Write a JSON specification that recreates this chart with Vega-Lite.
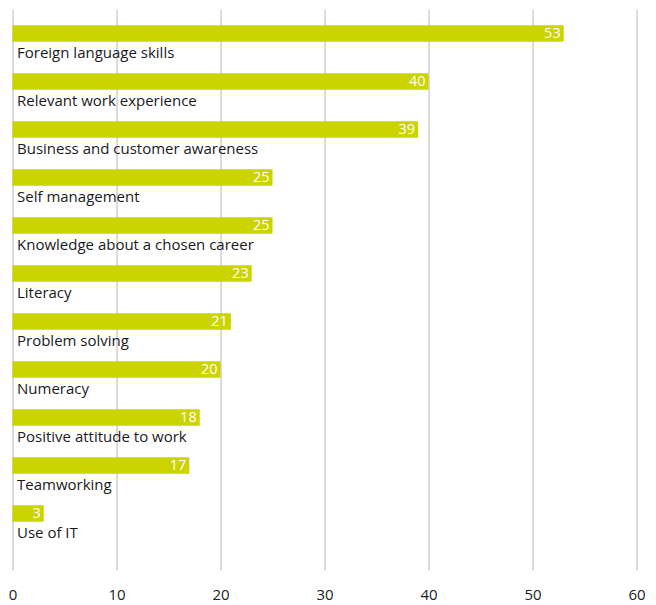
{
  "$schema": "https://vega.github.io/schema/vega-lite/v6.json",
  "width": 624,
  "height": 561,
  "autosize": {"type": "none"},
  "padding": {"left": 12.5, "top": 9, "right": 19.5, "bottom": 35},
  "background": "white",
  "config": {"view": {"stroke": null}, "font": "Open Sans"},
  "data": {
    "values": [
      {"skill": "Foreign language skills", "value": 53},
      {"skill": "Relevant work experience", "value": 40},
      {"skill": "Business and customer awareness", "value": 39},
      {"skill": "Self management", "value": 25},
      {"skill": "Knowledge about a chosen career", "value": 25},
      {"skill": "Literacy", "value": 23},
      {"skill": "Problem solving", "value": 21},
      {"skill": "Numeracy", "value": 20},
      {"skill": "Positive attitude to work", "value": 18},
      {"skill": "Teamworking", "value": 17},
      {"skill": "Use of IT", "value": 3}
    ]
  },
  "encoding": {
    "y": {
      "field": "skill",
      "type": "nominal",
      "sort": null,
      "axis": null,
      "scale": {"paddingInner": 0, "paddingOuter": 0.34375}
    }
  },
  "layer": [
    {
      "mark": {"type": "bar", "color": "#cbd300", "size": 16.5, "yOffset": -16},
      "encoding": {
        "x": {
          "field": "value",
          "type": "quantitative",
          "scale": {"domain": [0, 60], "nice": false},
          "axis": {
            "title": null,
            "values": [0, 10, 20, 30, 40, 50, 60],
            "domain": false,
            "ticks": false,
            "grid": true,
            "gridColor": "#cfcfcf",
            "gridWidth": 1.5,
            "labelFontSize": 15,
            "labelColor": "#222222",
            "labelPadding": 17,
            "labelFlush": false,
            "labelFont": "Open Sans"
          }
        }
      }
    },
    {
      "mark": {"type": "text", "align": "right", "baseline": "middle", "color": "white", "fontSize": 14.5, "dx": -3, "yOffset": -16},
      "encoding": {
        "x": {"field": "value", "type": "quantitative"},
        "text": {"field": "value", "type": "quantitative"}
      }
    },
    {
      "mark": {"type": "text", "align": "left", "baseline": "middle", "color": "#1a1a1a", "fontSize": 15, "dx": 4.5, "yOffset": 3},
      "encoding": {
        "x": {"datum": 0, "type": "quantitative"},
        "text": {"field": "skill"}
      }
    }
  ]
}
